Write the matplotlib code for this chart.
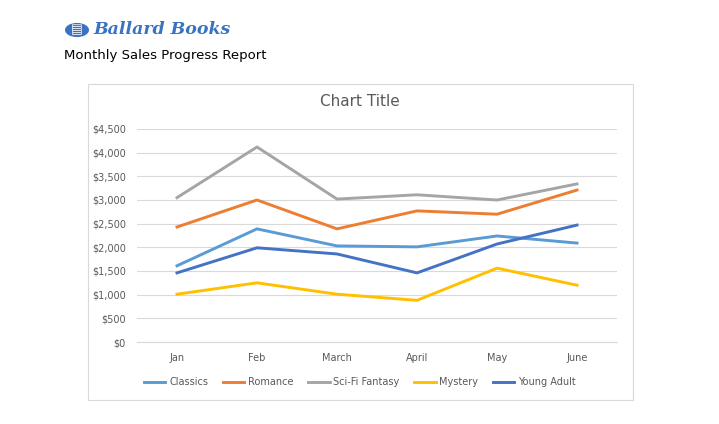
import matplotlib.pyplot as plt
from matplotlib.patches import Rectangle, Circle

months = ["Jan", "Feb", "March", "April", "May", "June"]
sales = {
    "Classics":     ([1610, 2390, 2030, 2010, 2240, 2090], "#5b9bd5"),
    "Romance":      ([2430, 3000, 2390, 2770, 2700, 3210], "#ed7d31"),
    "Sci-Fi Fantasy": ([3050, 4120, 3020, 3110, 3000, 3340], "#a5a5a5"),
    "Mystery":      ([1010, 1250, 1010, 880, 1560, 1200], "#ffc000"),
    "Young Adult":  ([1460, 1990, 1860, 1460, 2070, 2470], "#4472c4"),
}

W, H = 719, 424
fig = plt.figure(figsize=(W / 100, H / 100), dpi=100)

# header
fig.patches.append(Circle((77 / W, 1 - 30 / H), 12 / W, transform=fig.transFigure,
                          facecolor="#3a72c4", edgecolor="none"))
fig.text(77 / W, 1 - 30 / H, "\u25a4", color="white", fontsize=9, ha="center", va="center")
fig.text(93 / W, 1 - 30 / H, "Ballard Books", fontsize=12.5, color="#3a72c4",
         fontweight="bold", fontstyle="italic", family="DejaVu Serif", va="center")
fig.text(64 / W, 1 - 55 / H, "Monthly Sales Progress Report", fontsize=9.5, va="center")

# chart box
fig.patches.append(Rectangle((88 / W, 1 - 400 / H), 545 / W, 316 / H,
                             transform=fig.transFigure, fill=False, edgecolor="#d9d9d9", lw=0.8))

ax = fig.add_axes([137 / W, 1 - 342 / H, 480 / W, 213 / H])
for name, (vals, c) in sales.items():
    ax.plot(months, vals, color=c, lw=2.1, label=name)
ax.set_ylim(0, 4500)
ax.set_xlim(-0.5, 5.5)
ax.set_yticks(range(0, 4501, 500))
ax.set_yticklabels([f"${v:,}" for v in range(0, 4501, 500)])
ax.grid(axis="y", color="#d9d9d9", lw=0.8)
ax.set_axisbelow(True)
for s in ax.spines.values():
    s.set_visible(False)
ax.spines["bottom"].set_visible(True)
ax.spines["bottom"].set_color("#d9d9d9")
ax.tick_params(length=0, labelsize=7, colors="#595959", pad=8)
ax.tick_params(axis="y", pad=8)

fig.text(360 / W, 1 - 102 / H, "Chart Title", fontsize=11, color="#595959", ha="center", va="center")
fig.legend(loc="center", bbox_to_anchor=(360 / W, 1 - 382 / H), ncol=5, frameon=False,
           fontsize=7, handlelength=2.2, columnspacing=1.5, handletextpad=0.4,
           labelcolor="#595959")

fig.savefig("out.png", dpi=100, facecolor="white")
